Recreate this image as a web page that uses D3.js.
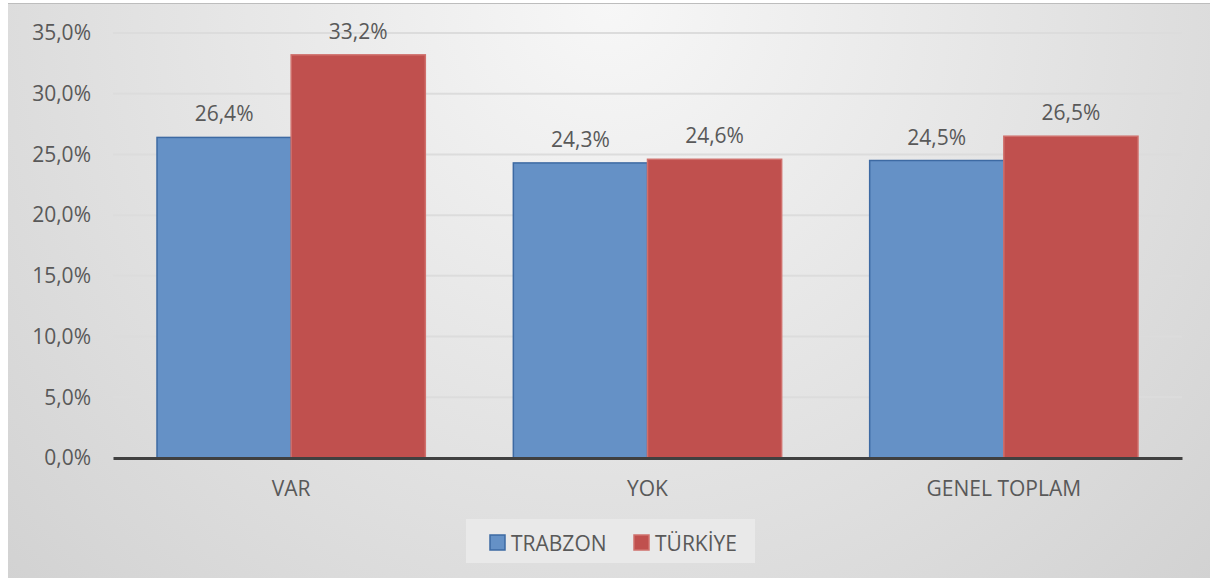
<!DOCTYPE html>
<html>
<head>
<meta charset="utf-8">
<script src="https://cdn.jsdelivr.net/npm/d3@7"></script>
<style>
  body { margin: 0; background: #fff; }
  svg text { font-family: "Open Sans", "Liberation Sans", sans-serif; fill: #595959; }
</style>
</head>
<body>
<div id="root"></div>
<script>
// Chart data
const categories = ["VAR", "YOK", "GENEL TOPLAM"];
const seriesNames = ["TRABZON", "TÜRKİYE"];
const trabzon = [26.4, 24.3, 24.5];
const turkiye = [33.2, 24.6, 26.5];
const yTicks = [0, 5, 10, 15, 20, 25, 30, 35];

const width = 1210;
const height = 578;
const margin = { left: 113, right: 28, top: 33, bottom: 120 };

const fills = ["#6591c6", "#c0504e"];
const strokes = ["#3d6aa3", "#d0706c"];

const fmt = v => d3.format(".1f")(v).replace(".", ",") + "%";

const svg = d3
  .select("#root")
  .append("svg")
  .attr("width", width)
  .attr("height", height);

// background gradient
const defs = svg.append("defs");
const grad = defs.append("radialGradient")
  .attr("id", "bg")
  .attr("cx", "50%").attr("cy", "0%")
  .attr("r", "75%")
  .attr("gradientTransform", "translate(0.5,0) scale(1,2.1) translate(-0.5,0)");
grad.append("stop").attr("offset", "0%").attr("stop-color", "#f7f7f7");
grad.append("stop").attr("offset", "100%").attr("stop-color", "#cfcfcf");

svg.append("rect")
  .attr("x", 8).attr("y", 3)
  .attr("width", width - 8).attr("height", height - 3)
  .attr("fill", "url(#bg)");
svg.append("line")
  .attr("x1", 8).attr("x2", width).attr("y1", 3.5).attr("y2", 3.5)
  .attr("stroke", "#bdbdbd").attr("stroke-width", 1);

// Scales
const x0 = d3.scaleBand()
  .domain(categories)
  .range([margin.left, width - margin.right]);

const gap = x0.bandwidth() * 0.1235;
const x1 = d3.scaleBand()
  .domain(seriesNames)
  .range([gap, x0.bandwidth() - gap]);

const y = d3.scaleLinear()
  .domain([0, 35])
  .range([height - margin.bottom, margin.top]);

// gridlines
svg.append("g")
  .selectAll("line")
  .data(yTicks.slice(1))
  .enter()
  .append("line")
  .attr("x1", margin.left)
  .attr("x2", width - margin.right)
  .attr("y1", d => y(d))
  .attr("y2", d => y(d))
  .attr("stroke", "#dcdcdc")
  .attr("stroke-width", 2);

// y axis labels
const yAxis = d3.axisLeft(y)
  .tickValues(yTicks)
  .tickFormat(fmt)
  .tickSize(0)
  .tickPadding(22);

svg.append("g")
  .attr("transform", "translate(" + margin.left + ",0)")
  .call(yAxis)
  .call(g => g.select(".domain").remove())
  .selectAll("text")
  .attr("font-size", 21)
  .style("font-family", "'Open Sans', sans-serif")
  .attr("fill", "#595959");

// bars
const rows = categories.map((c, i) => ({ cat: c, vals: [trabzon[i], turkiye[i]] }));

const groups = svg.append("g")
  .selectAll("g")
  .data(rows)
  .enter()
  .append("g")
  .attr("transform", d => "translate(" + x0(d.cat) + ",0)");

const cells = groups.selectAll("g")
  .data(d => d.vals.map((v, j) => ({ name: seriesNames[j], value: v, j: j })))
  .enter()
  .append("g");

cells.append("rect")
  .attr("x", d => x1(d.name))
  .attr("y", d => y(d.value))
  .attr("width", x1.bandwidth())
  .attr("height", d => y(0) - y(d.value))
  .attr("fill", d => fills[d.j])
  .attr("stroke", d => strokes[d.j])
  .attr("stroke-width", 1.5);

cells.append("text")
  .attr("x", d => x1(d.name) + x1.bandwidth() / 2)
  .attr("y", d => y(d.value) - 16)
  .attr("text-anchor", "middle")
  .attr("font-size", 21)
  .text(d => fmt(d.value));

// x axis
const xAxis = d3.axisBottom(x0).tickSize(0).tickPadding(23);
svg.append("g")
  .attr("transform", "translate(0," + y(0) + ")")
  .call(xAxis)
  .call(g => g.select(".domain")
    .attr("stroke", "#404040")
    .attr("stroke-width", 3))
  .selectAll("text")
  .attr("font-size", 21)
  .style("font-family", "'Open Sans', sans-serif")
  .attr("fill", "#595959");

// legend
const legend = svg.append("g");
legend.append("rect")
  .attr("x", 466).attr("y", 519)
  .attr("width", 289).attr("height", 44)
  .attr("fill", "#e9e9e9");

const legendX = [490, 634];
const items = legend.selectAll("g")
  .data(seriesNames)
  .enter()
  .append("g")
  .attr("transform", (d, i) => "translate(" + legendX[i] + ",535)");

items.append("rect")
  .attr("width", 15).attr("height", 15)
  .attr("fill", (d, i) => fills[i])
  .attr("stroke", (d, i) => strokes[i])
  .attr("stroke-width", 1.5);

items.append("text")
  .attr("x", 21).attr("y", 15.5)
  .attr("font-size", 21)
  .text(d => d);
</script>
</body>
</html>
